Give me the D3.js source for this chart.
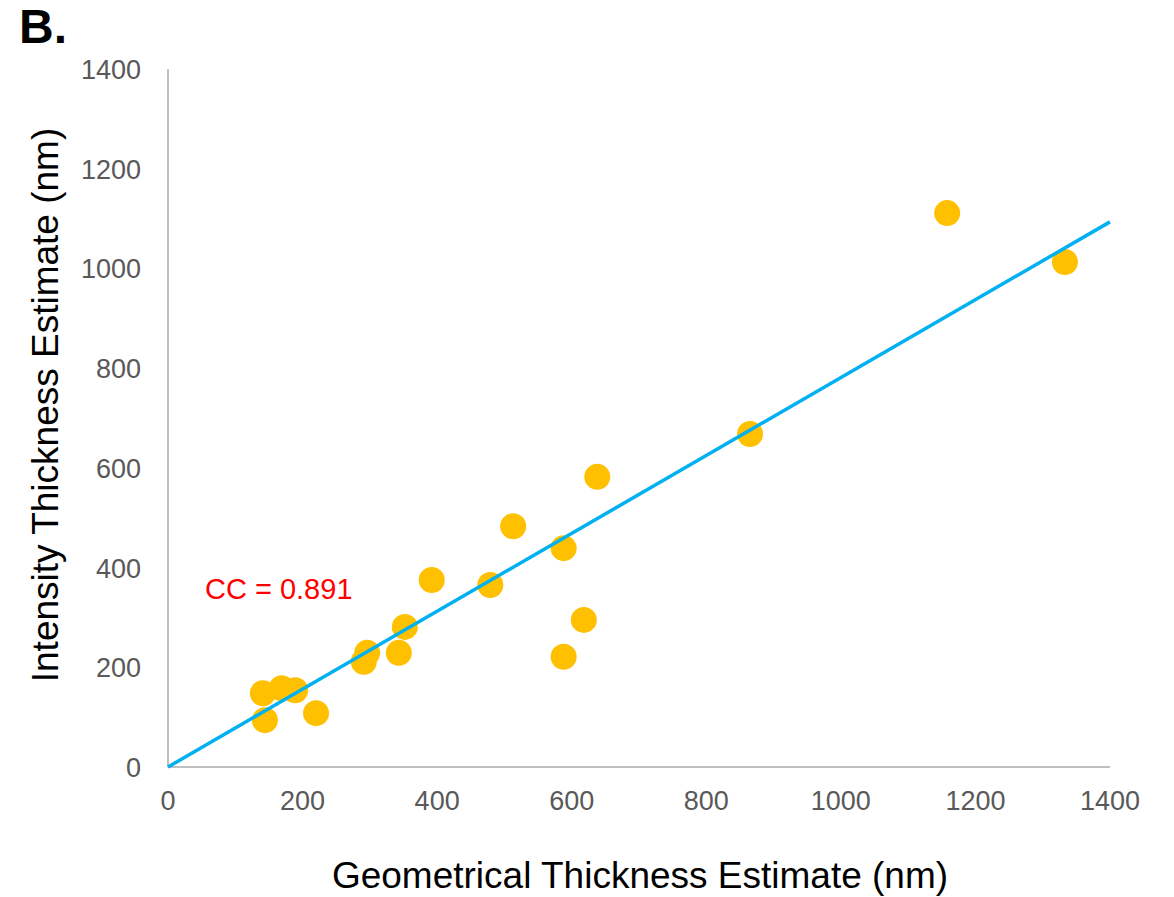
<!DOCTYPE html>
<html><head><meta charset="utf-8">
<script src="https://cdn.jsdelivr.net/npm/d3@7"></script>
<style>body{margin:0;background:#fff;} svg{display:block;font-family:"Liberation Sans",Arial,sans-serif;}</style>
</head><body>
<svg id="c" width="1174" height="897"></svg>
<script>
const geomX = [141,169,189,144,220,296,291,343,352,392,479,513,588,588,618,638,865,1158,1333];
const intensY = [148,158,154,94,108,229,211,229,281,375,365,483,439,221,295,582,668,1111,1013];
const xTicks = [0,200,400,600,800,1000,1200,1400];
const yTicks = [0,200,400,600,800,1000,1200,1400];
const trendSlope = 0.781;
const ccLabel = "CC = 0.891";

const svg = d3.select("#c");
const x = d3.scaleLinear().domain([0,1400]).range([168,1110]);
const y = d3.scaleLinear().domain([0,1400]).range([767,69]);

svg.append("line").attr("x1",x(0)).attr("x2",x(0)).attr("y1",y(0)).attr("y2",y(1400)).attr("stroke","#bfbfbf").attr("stroke-width",2);
svg.append("line").attr("x1",x(0)).attr("x2",x(1400)).attr("y1",y(0)).attr("y2",y(0)).attr("stroke","#bfbfbf").attr("stroke-width",2);

svg.selectAll(".yt").data(yTicks).join("text").attr("x",141).attr("y",d=>y(d)+10)
  .attr("text-anchor","end").attr("font-size",27).attr("fill","#595959").text(d=>d);
svg.selectAll(".xt").data(xTicks).join("text").attr("x",d=>x(d)).attr("y",810)
  .attr("text-anchor","middle").attr("font-size",27).attr("fill","#595959").text(d=>d);

const pts = geomX.map((v,i)=>[v,intensY[i]]);
svg.selectAll(".p").data(pts).join("circle").attr("cx",d=>x(d[0])).attr("cy",d=>y(d[1])).attr("r",13).attr("fill","#ffc000");

svg.append("line").attr("x1",x(0)).attr("y1",y(0)).attr("x2",x(1400)).attr("y2",y(1400*trendSlope))
  .attr("stroke","#00b0f0").attr("stroke-width",3.5);

svg.append("text").attr("x",205).attr("y",599).attr("font-size",29).attr("fill","#ff0000").text(ccLabel);

svg.append("text").attr("x",640).attr("y",888).attr("text-anchor","middle").attr("font-size",37).attr("fill","#000").text("Geometrical Thickness Estimate (nm)");
svg.append("text").attr("transform","translate(58,405) rotate(-90)").attr("text-anchor","middle").attr("font-size",37).attr("fill","#000").text("Intensity Thickness Estimate (nm)");
svg.append("text").attr("x",19).attr("y",43).attr("font-size",48).attr("font-weight","bold").attr("fill","#000").text("B.");
</script>
</body></html>
